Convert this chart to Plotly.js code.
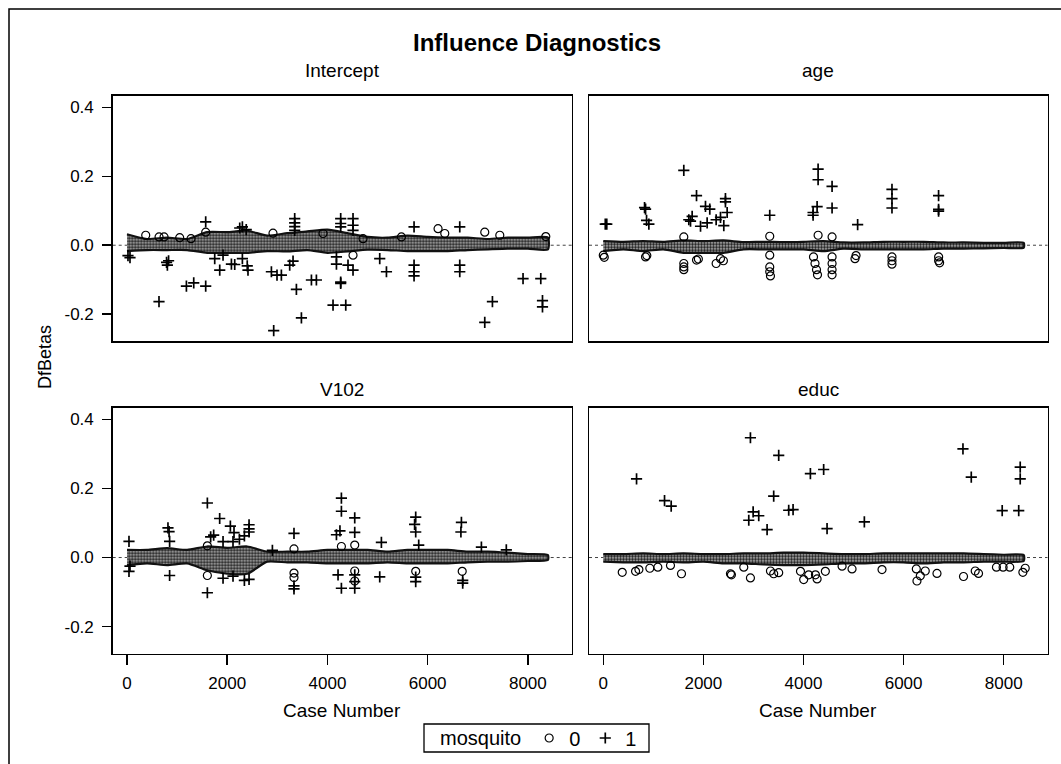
<!DOCTYPE html>
<html>
<head>
<meta charset="utf-8">
<script src="https://cdn.plot.ly/plotly-3.0.1.min.js"></script>
<style>html,body{margin:0;padding:0;background:#fff;}#chart{width:1061px;height:764px;}</style>
</head>
<body>
<div id="chart"></div>
<script>
// ---------- data ----------
const caseTicks = [0, 2000, 4000, 6000, 8000];
const yTickVals = [-0.2, 0.0, 0.2, 0.4];
const yTickText = ['-0.2', '0.0', '0.2', '0.4'];
const panelNames = ['Intercept', 'age', 'V102', 'educ'];
const legendLabels = ['0', '1'];

// dense band of cases (envelope of the grey mass of overlapping markers)
const bandCase = [0,400,800,1200,1600,2000,2400,2800,3200,3600,4000,4400,4800,5200,5600,6000,6400,6800,7200,7600,8000,8400];
const interceptBandHi = [0.032,0.018,0.022,0.018,0.038,0.038,0.042,0.028,0.035,0.040,0.045,0.035,0.024,0.022,0.028,0.024,0.022,0.022,0.018,0.022,0.022,0.022];
const interceptBandLo = [-0.017,-0.014,-0.014,-0.014,-0.022,-0.022,-0.022,-0.017,-0.018,-0.014,-0.022,-0.018,-0.013,-0.014,-0.017,-0.017,-0.017,-0.014,-0.012,-0.010,-0.010,-0.012];
const ageBandHi = [0.012,0.010,0.012,0.010,0.014,0.012,0.014,0.009,0.010,0.009,0.010,0.012,0.008,0.008,0.010,0.010,0.010,0.008,0.008,0.007,0.007,0.007];
const ageBandLo = [-0.017,-0.012,-0.017,-0.012,-0.022,-0.022,-0.022,-0.012,-0.012,-0.012,-0.012,-0.017,-0.010,-0.012,-0.012,-0.012,-0.012,-0.010,-0.010,-0.009,-0.008,-0.007];
const v102BandHi = [0.022,0.022,0.027,0.022,0.032,0.028,0.032,0.017,0.017,0.017,0.022,0.022,0.022,0.017,0.022,0.022,0.022,0.017,0.017,0.014,0.010,0.007];
const v102BandLo = [-0.022,-0.017,-0.022,-0.017,-0.037,-0.047,-0.047,-0.012,-0.014,-0.014,-0.017,-0.017,-0.017,-0.014,-0.017,-0.017,-0.017,-0.014,-0.012,-0.012,-0.010,-0.007];
const educBandHi = [0.010,0.010,0.012,0.010,0.012,0.010,0.010,0.012,0.012,0.014,0.014,0.012,0.010,0.010,0.012,0.012,0.012,0.012,0.012,0.010,0.008,0.007];
const educBandLo = [-0.012,-0.014,-0.014,-0.012,-0.014,-0.012,-0.017,-0.017,-0.020,-0.022,-0.022,-0.020,-0.017,-0.017,-0.014,-0.014,-0.017,-0.014,-0.014,-0.012,-0.012,-0.010];

// Intercept
const interceptPlusCase = [20,60,639,790,806,830,1186,1332,1571,1571,1751,1851,1917,2084,2150,2250,2303,2303,2380,2400,2415,2882,2928,2994,3081,3247,3314,3381,3481,3347,3347,3347,3347,3681,3780,4112,4366,4265,4265,4180,4180,4265,4265,4265,4511,4511,4511,4411,4511,5044,5178,5729,5729,5729,5729,6641,6641,6641,7140,7293,7904,8258,8292,8292];
const interceptPlusVal  = [-0.030,-0.036,-0.164,-0.050,-0.058,-0.045,-0.119,-0.109,-0.119,0.068,-0.039,-0.072,-0.029,-0.055,-0.056,0.050,-0.039,0.053,0.045,-0.060,-0.072,-0.077,-0.248,-0.087,-0.087,-0.058,-0.046,-0.128,-0.211,0.077,0.065,0.054,0.043,-0.101,-0.101,-0.174,-0.174,-0.111,-0.107,-0.055,-0.034,0.077,0.063,0.053,0.077,0.058,0.043,-0.058,-0.072,-0.039,-0.077,-0.058,-0.077,-0.089,0.053,-0.058,-0.077,0.053,-0.224,-0.164,-0.097,-0.097,-0.161,-0.179];
const interceptCircCase = [374,640,740,1052,1278,1571,2914,3913,4711,5477,6208,6342,7140,7440,8358,4511];
const interceptCircVal  = [0.029,0.024,0.024,0.022,0.019,0.038,0.035,0.034,0.019,0.024,0.048,0.034,0.038,0.029,0.025,-0.029];

// age
const agePlusCase = [40,70,825,845,865,911,1609,1863,1709,1776,1743,1943,2075,2042,2128,2255,2342,2408,2441,2441,2475,3326,4192,4192,4272,4292,4292,4571,4571,5082,5768,5768,5768,6699,6699,6699];
const agePlusVal  = [0.061,0.061,0.109,0.105,0.072,0.061,0.217,0.144,0.074,0.084,0.070,0.055,0.065,0.113,0.105,0.074,0.081,0.057,0.135,0.126,0.095,0.087,0.095,0.087,0.112,0.221,0.190,0.171,0.108,0.060,0.162,0.135,0.108,0.144,0.104,0.099];
const ageCircCase = [0,20,845,870,1609,1609,1609,1863,1900,2255,2342,2400,3326,3326,3326,3340,4200,4230,4260,4280,4571,4571,4571,4571,5029,5050,5768,5768,5768,6700,6720,6700,4292,4571,3326,1609];
const ageCircVal  = [-0.029,-0.035,-0.034,-0.030,-0.053,-0.063,-0.071,-0.043,-0.040,-0.053,-0.039,-0.045,-0.029,-0.063,-0.077,-0.089,-0.034,-0.053,-0.071,-0.086,-0.034,-0.053,-0.071,-0.086,-0.039,-0.030,-0.034,-0.055,-0.045,-0.034,-0.051,-0.045,0.029,0.024,0.026,0.024];

// V102
const v102PlusCase = [40,818,840,851,1604,1850,1670,1730,1917,2063,2136,2116,2244,2343,2436,2436,2436,2902,3333,4279,4279,4250,4180,4545,4545,5077,5762,5740,5762,5822,6674,6664,7073,7570,
                      40,60,851,1604,1917,2116,2343,2436,3333,3333,4279,4212,4545,4545,4545,5044,5762,5762,6700,6700];
const v102PlusVal  = [0.047,0.086,0.075,0.047,0.158,0.113,0.060,0.065,0.046,0.091,0.072,0.046,0.053,0.063,0.095,0.083,0.074,0.021,0.070,0.172,0.134,0.077,0.066,0.115,0.073,0.044,0.117,0.096,0.074,0.036,0.102,0.074,0.030,0.022,
                      -0.040,-0.025,-0.052,-0.102,-0.060,-0.054,-0.066,-0.063,-0.091,-0.082,-0.089,-0.050,-0.089,-0.070,-0.050,-0.056,-0.057,-0.070,-0.066,-0.074];
const v102CircCase = [1604,1604,3333,3333,3333,4279,4545,4545,4545,5762,6690];
const v102CircVal  = [-0.052,0.034,-0.058,-0.045,0.025,0.032,0.036,-0.039,-0.068,-0.040,-0.040];

// educ
const educPlusCase = [665,1224,1357,2940,3505,3405,2907,2994,3106,3273,3705,3792,4138,4403,4471,5216,7186,7352,7970,8330,8330,8300];
const educPlusVal  = [0.228,0.165,0.149,0.347,0.296,0.178,0.108,0.132,0.121,0.081,0.137,0.139,0.243,0.255,0.084,0.103,0.315,0.233,0.136,0.262,0.228,0.136];
const educCircCase = [379,645,712,930,1090,1343,1563,2541,2560,2807,2940,3340,3405,3505,3940,4004,4104,4272,4239,4437,4771,4970,5569,6267,6334,6433,6667,6254,7197,7431,7497,7855,7988,8121,8383,8430];
const educCircVal  = [-0.043,-0.040,-0.035,-0.031,-0.028,-0.023,-0.047,-0.047,-0.050,-0.028,-0.059,-0.039,-0.047,-0.044,-0.040,-0.064,-0.050,-0.062,-0.050,-0.040,-0.025,-0.033,-0.035,-0.068,-0.053,-0.039,-0.046,-0.033,-0.055,-0.039,-0.046,-0.028,-0.028,-0.028,-0.043,-0.031];

// ---------- build ----------
const FONT = 'Liberation Sans, Arial, Helvetica, sans-serif';
const panels = [
  {xa:'x',  ya:'y',  hi:interceptBandHi, lo:interceptBandLo, pc:interceptPlusCase, pv:interceptPlusVal, cc:interceptCircCase, cv:interceptCircVal},
  {xa:'x2', ya:'y2', hi:ageBandHi, lo:ageBandLo, pc:agePlusCase, pv:agePlusVal, cc:ageCircCase, cv:ageCircVal},
  {xa:'x3', ya:'y3', hi:v102BandHi, lo:v102BandLo, pc:v102PlusCase, pv:v102PlusVal, cc:v102CircCase, cv:v102CircVal},
  {xa:'x4', ya:'y4', hi:educBandHi, lo:educBandLo, pc:educPlusCase, pv:educPlusVal, cc:educCircCase, cv:educCircVal}
];
const traces = [];
panels.forEach((p, i) => {
  traces.push({
    type:'scatter', mode:'lines', xaxis:p.xa, yaxis:p.ya,
    x: bandCase.concat(bandCase.slice().reverse()),
    y: p.hi.concat(p.lo.slice().reverse()),
    fill:'toself', fillcolor:'#808080',
    fillpattern:{shape:'.', size:3, solidity:0.55, fgcolor:'#1a1a1a', bgcolor:'#b8b8b8'},
    line:{color:'#111', width:2.2, shape:'spline', smoothing:0.6},
    showlegend:false, hoverinfo:'skip'
  });
  traces.push({
    type:'scatter', mode:'markers', xaxis:p.xa, yaxis:p.ya,
    x:p.cc, y:p.cv, name:legendLabels[0], legendgroup:'g0', showlegend:i===0,
    marker:{symbol:'circle-open', size:8, color:'#000', line:{width:1.2, color:'#000'}}
  });
  traces.push({
    type:'scatter', mode:'markers', xaxis:p.xa, yaxis:p.ya,
    x:p.pc, y:p.pv, name:legendLabels[1], legendgroup:'g1', showlegend:i===0,
    marker:{symbol:'cross-thin-open', size:8, color:'#000', line:{width:1.7, color:'#000'}}
  });
});

const W = 1061, H = 764;
const xL = [112.7/W, 571.7/W], xR = [589/W, 1047.5/W];
const yT = [1-341/H, 1-95.7/H], yB = [1-653.5/H, 1-407.7/H];
const xRange = [-285, 8875], yRange = [-0.278, 0.434];

function xax(dom, anchor, show) {
  return {domain:dom, anchor:anchor, range:xRange, showgrid:false, zeroline:false,
    showline:true, mirror:true, linecolor:'#000', linewidth:1.5,
    ticks: show ? 'outside' : '', ticklen:10, tickwidth:1.5, tickcolor:'#000',
    tickvals:caseTicks, ticktext:caseTicks.map(String), showticklabels:show,
    tickfont:{family:FONT, size:17, color:'#000'}, ticklabelstandoff:4, fixedrange:true};
}
function yax(dom, anchor, show) {
  return {domain:dom, anchor:anchor, range:yRange, showgrid:false, zeroline:false,
    showline:true, mirror:true, linecolor:'#000', linewidth:1.5,
    ticks: show ? 'outside' : '', ticklen:9, tickwidth:1.5, tickcolor:'#000',
    tickvals:yTickVals, ticktext:yTickText, showticklabels:show,
    tickfont:{family:FONT, size:17, color:'#000'}, ticklabelstandoff:5, fixedrange:true};
}

const shapes = [];
['x','x2','x3','x4'].forEach((xa, i) => {
  const ya = ['y','y2','y3','y4'][i];
  shapes.push({type:'line', xref:xa+' domain', x0:0, x1:1, yref:ya, y0:0, y1:0,
    line:{color:'#444', width:1, dash:'dot'}, layer:'below'});
});
// outer frame (left and top edges visible in the picture)
shapes.push({type:'rect', xref:'paper', yref:'paper', x0:9/W, x1:1.02, y0:-0.02, y1:1-9/H,
  line:{color:'#000', width:1.5}, layer:'below'});
// legend box
shapes.push({type:'rect', xref:'paper', yref:'paper', x0:424/W, x1:649/W, y0:1-752/H, y1:1-724/H,
  line:{color:'#000', width:1.3}, fillcolor:'rgba(0,0,0,0)', layer:'below'});

const ann = (text, x, y, size, extra) => Object.assign({text:text, xref:'paper', yref:'paper',
  x:x/W, y:1-y/H, xanchor:'center', yanchor:'middle', showarrow:false,
  font:{family:FONT, size:size, color:'#000'}}, extra||{});
const annotations = [
  ann('<b>Influence Diagnostics</b>', 537, 42, 24),
  ann(panelNames[0], 342.2, 71, 19),
  ann(panelNames[1], 818.2, 71, 19),
  ann(panelNames[2], 342.2, 389, 19),
  ann(panelNames[3], 818.2, 389, 19),
  ann('Case Number', 342.2, 710, 19),
  ann('Case Number', 818.2, 710, 19),
  ann('DfBetas', 45, 357, 18, {textangle:-90})
];

const layout = {
  width:W, height:H, margin:{l:0, r:0, t:0, b:0},
  paper_bgcolor:'#fff', plot_bgcolor:'#fff',
  xaxis:xax(xL,'y',false), yaxis:yax(yT,'x',true),
  xaxis2:xax(xR,'y2',false), yaxis2:yax(yT,'x2',false),
  xaxis3:xax(xL,'y3',true), yaxis3:yax(yB,'x3',true),
  xaxis4:xax(xR,'y4',true), yaxis4:yax(yB,'x4',false),
  shapes:shapes, annotations:annotations,
  showlegend:true,
  legend:{orientation:'h', x:540/W, xanchor:'center', y:1-738/H, yanchor:'middle',
    borderwidth:0, bgcolor:'rgba(0,0,0,0)',
    font:{family:FONT, size:20, color:'#000'},
    title:{text:'mosquito', side:'left', font:{family:FONT, size:20, color:'#000'}},
    itemwidth:30, tracegroupgap:0}
};

Plotly.newPlot('chart', traces, layout, {displayModeBar:false, staticPlot:true});
</script>
</body>
</html>
